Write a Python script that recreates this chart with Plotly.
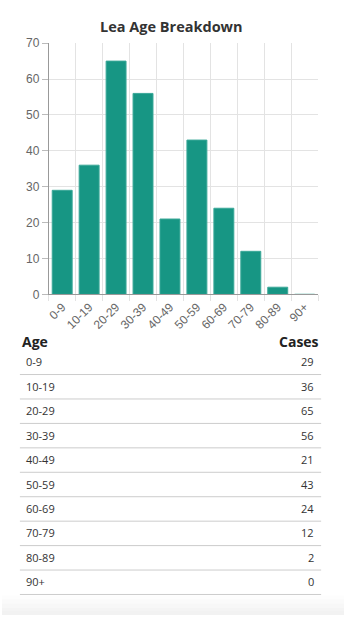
import plotly.graph_objects as go

age_groups = ["0-9", "10-19", "20-29", "30-39", "40-49", "50-59", "60-69", "70-79", "80-89", "90+"]
cases = [29, 36, 65, 56, 21, 43, 24, 12, 2, 0]
y_ticks = [0, 10, 20, 30, 40, 50, 60, 70]
title_text = "Lea Age Breakdown"
table_headers = ["Age", "Cases"]

W, H = 344, 622
def px(x):
    return x / W
def py(y):
    return 1 - y / H

TXT = "Open Sans, sans-serif"

fig = go.Figure()
fig.add_trace(go.Bar(
    x=age_groups, y=cases,
    marker=dict(color="#179684", line=dict(color="#3aa898", width=1)),
    hoverinfo="x+y",
))

annotations = [
    dict(text="<b>" + title_text + "</b>", x=px(170), y=py(20), xref="paper", yref="paper",
         showarrow=False, font=dict(family=TXT, size=14.5, color="#333"),
         xanchor="center", yanchor="middle"),
    dict(text="<b>" + table_headers[0] + "</b>", x=px(18), y=py(342), xref="paper", yref="paper",
         showarrow=False, font=dict(family=TXT, size=14, color="#222"),
         xanchor="left", yanchor="middle"),
    dict(text="<b>" + table_headers[1] + "</b>", x=px(321), y=py(342), xref="paper", yref="paper",
         showarrow=False, font=dict(family=TXT, size=14, color="#222"),
         xanchor="right", yanchor="middle"),
]
shapes = []
for i, (g, c) in enumerate(zip(age_groups, cases)):
    yc = 363 + 25 * i
    annotations.append(dict(text=g, x=px(22), y=py(yc), xref="paper", yref="paper", showarrow=False,
                            font=dict(family=TXT, size=11, color="#333"),
                            xanchor="left", yanchor="middle"))
    annotations.append(dict(text=str(c), x=px(316), y=py(yc), xref="paper", yref="paper", showarrow=False,
                            font=dict(family=TXT, size=11, color="#333"),
                            xanchor="right", yanchor="middle"))
    yl = 376 + 25 * i
    shapes.append(dict(type="line", xref="paper", yref="paper", x0=px(18), x1=px(321),
                       y0=py(yl), y1=py(yl), line=dict(color="#cccccc", width=1)))

# bottom soft gradient
grads = ["#fdfdfd", "#fafafa", "#f7f7f7", "#f4f4f4", "#f2f2f2"]
for k, col in enumerate(grads):
    y0 = 602 + k * 4
    shapes.append(dict(type="rect", xref="paper", yref="paper", x0=0, x1=1, y0=py(y0 + 4), y1=py(y0),
                       fillcolor=col, line=dict(width=0), layer="below"))

fig.update_layout(
    width=W, height=H,
    margin=dict(l=0, r=0, t=0, b=0),
    paper_bgcolor="white", plot_bgcolor="white",
    showlegend=False,
    bargap=0.26,
    xaxis=dict(domain=[px(47), px(318)], type="category", tickson="boundaries",
               showgrid=True, gridcolor="#e3e3e3", ticks="outside", ticklen=6, tickcolor="#e3e3e3",
               tickangle=-45, tickfont=dict(family="Liberation Sans, Arial", size=12, color="#666"),
               showline=True, linecolor="#999", linewidth=1, anchor="y"),
    yaxis=dict(domain=[py(294), py(37)], range=[0, 70], tickvals=y_ticks,
               showgrid=True, gridcolor="#e3e3e3", ticks="outside", ticklen=6, tickcolor="#bbb",
               tickfont=dict(family="Liberation Sans, Arial", size=12, color="#666"),
               showline=True, linecolor="#999", linewidth=1, zeroline=False),
    annotations=annotations,
    shapes=shapes,
)

fig.write_html("out.html")
